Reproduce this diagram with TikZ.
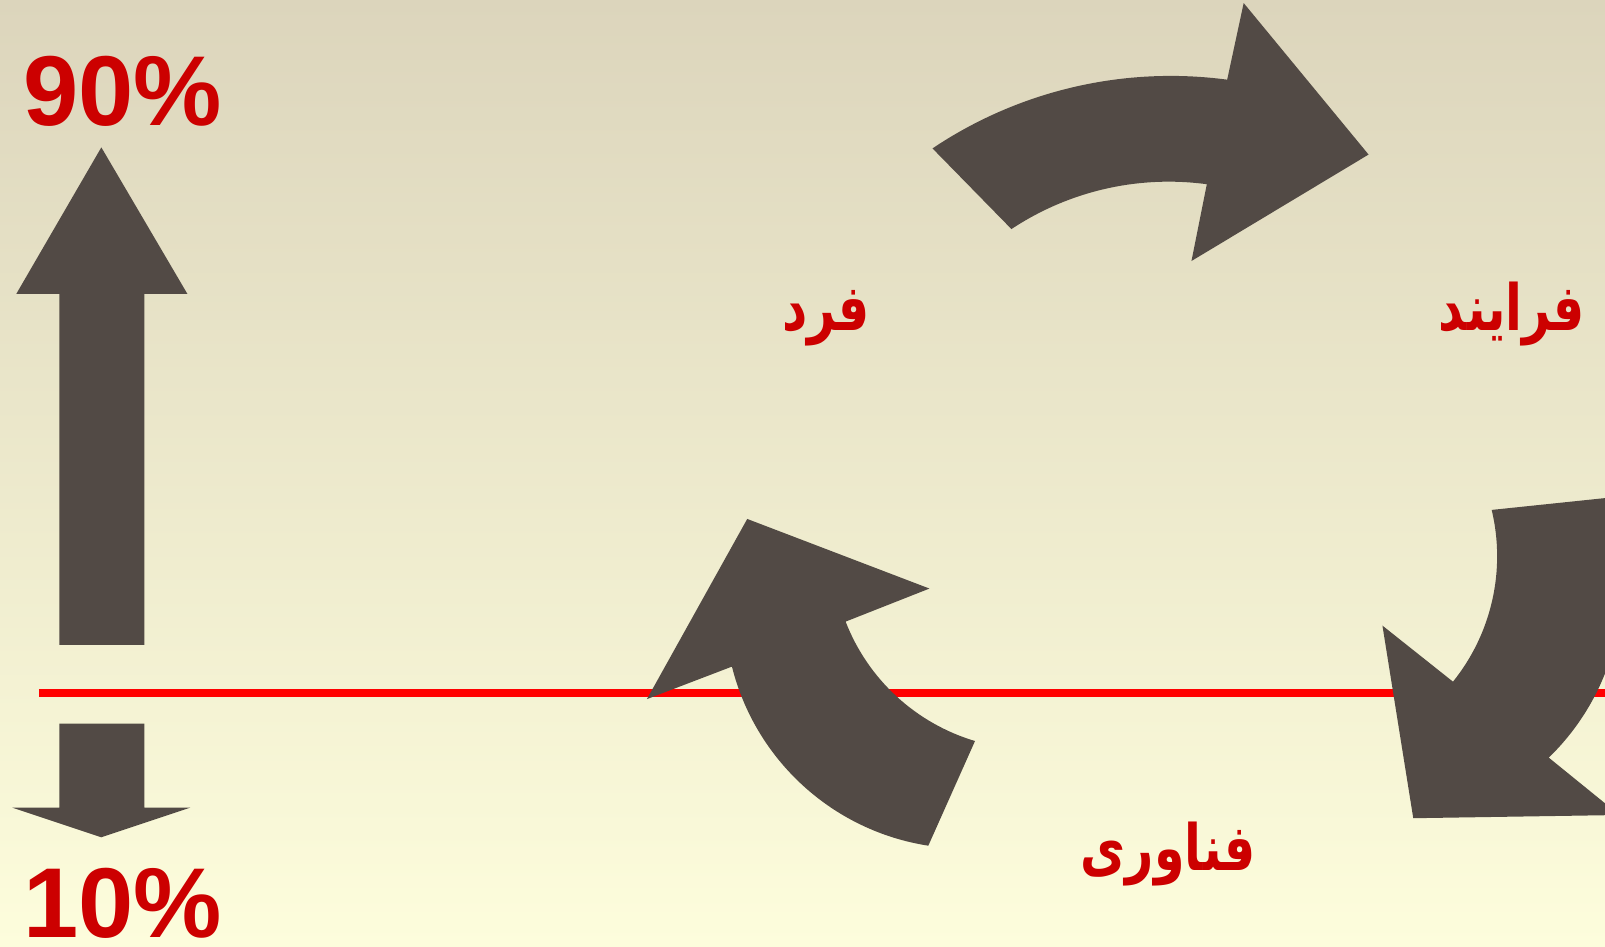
\documentclass[tikz,border=0pt]{standalone}
\usepackage{fontspec}
\setmainfont{Liberation Sans}
\newfontfamily\arabicfont[Script=Arabic]{DejaVu Sans}
\TeXXeTstate=1
\definecolor{bgtop}{RGB}{220,213,188}
\definecolor{bgbot}{RGB}{253,253,220}
\definecolor{arrowgray}{RGB}{82,74,69}
\definecolor{txtred}{RGB}{204,0,0}
\definecolor{linered}{RGB}{255,0,0}
\newcommand{\tallfa}[1]{\scalebox{1}[1.3]{\beginR #1\endR}}
\begin{document}
\begin{tikzpicture}[x=1pt,y=1pt,
  arrowshape/.style={fill=arrowgray, draw=none},
  pct/.style={text=txtred, font=\fontsize{97}{97}\selectfont\bfseries, inner sep=0pt, anchor=base},
  fa/.style={text=txtred, font=\arabicfont\bfseries\fontsize{48}{56}\selectfont, inner sep=0pt, anchor=base},
  redline/.style={draw=linered, line width=7pt}]
\useasboundingbox (0,0) rectangle (1568,925);
\clip (0,0) rectangle (1568,925);
\shade[top color=bgtop, bottom color=bgbot] (0,0) rectangle (1568,925);

% red separator line
\coordinate (l1) at (38,248);
\coordinate (l2) at (1580,248);
\draw[redline] (l1) -- (l2);

% up arrow
\fill[arrowshape] (58,295) -- (58,638) -- (16,638) -- (99,781) -- (183,638) -- (141,638) -- (141,295) -- cycle;
% down arrow
\fill[arrowshape] (58,218) -- (141,218) -- (141,136) -- (186,136) -- (99,107) -- (12,136) -- (58,136) -- cycle;

% top curved arrow
\fill[arrowshape] (911,780) arc[start angle=123.86, end angle=82.4, radius=417.6]
  -- (1215,922) -- (1337,774) -- (1164,670) -- (1179,745)
  arc[start angle=82.3, end angle=123.55, radius=278] -- cycle;

% bottom curved arrow
\fill[arrowshape] (826.1,317.7) arc[start angle=201.2, end angle=253.4, radius=195.5]
  -- (906.9,98.8) arc[start angle=261.17, end angle=194.1, radius=235]
  -- (632,242) -- (730,418) -- (908,350) -- cycle;

% right curved arrow: same shape, turned by 120 degrees
\begin{scope}[shift={(1267.1,381.55)}, rotate=120, shift={(-1008.4,-388.4)}]
\fill[arrowshape] (826.1,317.7) arc[start angle=201.2, end angle=253.4, radius=195.5]
  -- (906.9,98.8) arc[start angle=261.17, end angle=194.1, radius=235]
  -- (632,242) -- (730,418) -- (908,350) -- cycle;
\end{scope}

% percentages
\node[pct] (p90) at (120,802) {90\%};
\node[pct] (p10) at (120,9) {10\%};

% Persian labels
\node[fa] (fard) at (807,602) {\tallfa{فرد}};
\node[fa] (farayand) at (1477,602) {\tallfa{فرایند}};
\node[fa] (fanavari) at (1141,75) {\tallfa{فناوری}};
\end{tikzpicture}
\end{document}
